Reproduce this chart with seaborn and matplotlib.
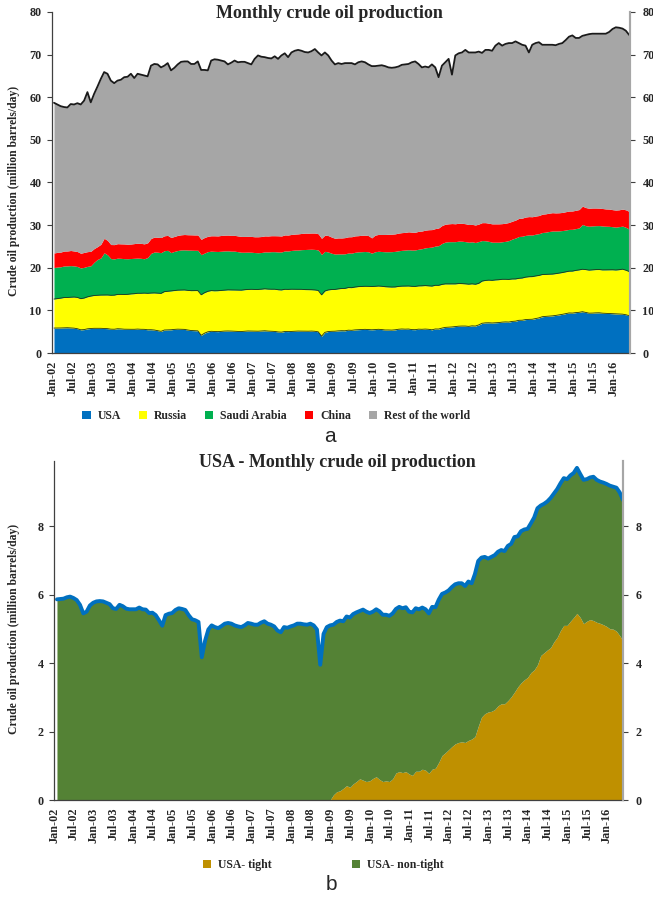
import numpy as np
import pandas as pd
import matplotlib
matplotlib.use("Agg")
import matplotlib.pyplot as plt
import seaborn as sns
from matplotlib.patches import Patch

# monthly data Jan-02 .. May-16 (million barrels/day)
world_total = [
    58.7, 58.3, 57.9, 57.7, 57.6, 58.4, 58.3, 58.6, 58.3, 59.2, 61.2, 58.8,
    60.8, 62.5, 64.3, 65.9, 65.5, 63.9, 63.3, 63.9, 64.1, 64.7, 64.8, 65.5,
    64.5, 65.5, 65.3, 65.1, 64.9, 67.4, 67.8, 67.7, 67.0, 67.4, 68.0, 66.3,
    66.9, 67.7, 68.3, 68.4, 68.4, 67.8, 67.8, 68.4, 66.4, 66.4, 66.3, 68.6,
    68.9, 68.8, 68.6, 68.4, 67.7, 68.1, 68.6, 68.2, 68.3, 68.3, 68.0, 67.7,
    69.0, 69.8, 69.5, 69.4, 69.2, 69.1, 69.6, 69.0, 69.8, 70.3, 69.4, 70.5,
    70.9, 71.1, 70.9, 70.6, 70.5, 70.8, 71.3, 70.5, 69.8, 70.5, 69.8, 68.6,
    67.7, 68.0, 67.8, 68.0, 68.0, 68.0, 67.7, 68.2, 68.4, 68.2, 67.7, 67.3,
    67.3, 67.4, 67.5, 67.3, 67.0, 66.9, 67.0, 67.2, 67.6, 67.7, 67.8, 68.2,
    68.4, 67.8, 67.0, 67.2, 67.0, 67.7, 67.0, 64.7, 67.4, 68.2, 69.0, 65.3,
    69.8, 70.3, 70.5, 71.1, 70.5, 70.5, 70.5, 70.7, 70.4, 71.1, 71.1, 70.9,
    72.1, 72.7, 72.1, 72.5, 72.7, 72.7, 73.1, 72.7, 72.3, 72.1, 70.5, 72.3,
    72.7, 72.9, 72.3, 72.3, 72.3, 72.3, 72.2, 72.5, 72.7, 73.4, 74.2, 74.5,
    73.9, 73.9, 74.4, 74.6, 74.8, 74.9, 74.9, 74.9, 74.9, 74.9, 75.3, 76.0,
    76.4, 76.3, 76.1, 75.6, 74.6,
]
usa = [
    5.86, 5.87, 5.88, 5.92, 5.94, 5.90, 5.84, 5.70, 5.45, 5.50, 5.68, 5.76,
    5.80, 5.81, 5.80, 5.76, 5.72, 5.60, 5.58, 5.70, 5.66, 5.59, 5.57, 5.57,
    5.57, 5.62, 5.57, 5.56, 5.46, 5.47, 5.40, 5.25, 5.09, 5.40, 5.44, 5.46,
    5.55, 5.60, 5.58, 5.55, 5.40, 5.28, 5.25, 5.20, 4.17, 4.65, 4.98, 5.10,
    5.05, 5.02, 5.08, 5.15, 5.17, 5.15, 5.10, 5.07, 5.05, 5.10, 5.17, 5.15,
    5.12, 5.12, 5.18, 5.22, 5.15, 5.12, 5.07, 4.95, 4.90, 5.05, 5.03, 5.07,
    5.10, 5.15, 5.15, 5.13, 5.12, 5.15, 5.10, 4.98, 3.95, 4.85, 5.05, 5.10,
    5.12, 5.20, 5.24, 5.22, 5.36, 5.33, 5.43, 5.48, 5.52, 5.56, 5.50, 5.46,
    5.50, 5.57, 5.51, 5.41, 5.41, 5.38, 5.45, 5.58, 5.64, 5.60, 5.63, 5.50,
    5.48, 5.60, 5.57, 5.62, 5.57, 5.45, 5.64, 5.63, 5.85, 6.02, 6.06, 6.12,
    6.22, 6.30, 6.33, 6.33, 6.25, 6.38, 6.33, 6.60, 6.98, 7.08, 7.10, 7.05,
    7.10, 7.15, 7.25, 7.30, 7.27, 7.42, 7.48, 7.68, 7.70, 7.85, 7.90, 7.92,
    8.08, 8.25, 8.52, 8.60, 8.65, 8.72, 8.82, 8.95, 9.08, 9.25, 9.40, 9.37,
    9.48, 9.55, 9.70, 9.52, 9.35, 9.37, 9.42, 9.44, 9.35, 9.30, 9.27, 9.23,
    9.18, 9.15, 9.12, 8.98, 8.76,
]
russia = [
    6.8, 6.9, 7.0, 7.1, 7.1, 7.2, 7.3, 7.35, 7.3, 7.4, 7.5, 7.6,
    7.7, 7.75, 7.8, 7.85, 7.9, 7.95, 8.0, 8.05, 8.1, 8.15, 8.2, 8.3,
    8.35, 8.4, 8.45, 8.5, 8.55, 8.6, 8.7, 8.8, 8.9, 9.0, 9.05, 9.1,
    9.1, 9.15, 9.2, 9.25, 9.3, 9.35, 9.4, 9.45, 9.5, 9.5, 9.5, 9.55,
    9.55, 9.6, 9.6, 9.6, 9.65, 9.65, 9.7, 9.7, 9.7, 9.75, 9.75, 9.8,
    9.8, 9.8, 9.8, 9.85, 9.85, 9.85, 9.9, 9.9, 9.9, 9.9, 9.9, 9.9,
    9.85, 9.8, 9.8, 9.75, 9.75, 9.7, 9.7, 9.7, 9.7, 9.7, 9.75, 9.8,
    9.8, 9.85, 9.9, 9.95, 10.0, 10.0, 10.05, 10.1, 10.1, 10.1, 10.15, 10.15,
    10.15, 10.15, 10.15, 10.15, 10.1, 10.1, 10.05, 10.05, 10.05, 10.1, 10.1, 10.15,
    10.15, 10.15, 10.2, 10.2, 10.2, 10.25, 10.25, 10.25, 10.25, 10.2, 10.15, 10.1,
    10.0, 10.0, 9.95, 9.9, 9.9, 9.85, 9.8, 9.75, 9.9, 9.95, 10.0, 10.0,
    10.05, 10.05, 10.05, 10.0, 10.0, 9.95, 9.9, 9.85, 9.9, 9.95, 10.0, 10.0,
    10.0, 9.95, 9.9, 9.85, 9.85, 9.8, 9.8, 9.8, 9.8, 9.8, 9.8, 9.85,
    9.9, 9.95, 9.95, 10.05, 10.1, 10.15, 10.15, 10.15, 10.15, 10.2, 10.25, 10.3,
    10.3, 10.4, 10.55, 10.45, 10.35,
]
saudi = [
    7.4, 7.4, 7.35, 7.4, 7.4, 7.4, 7.3, 7.25, 7.2, 7.2, 7.15, 7.1,
    7.8, 8.4, 8.7, 9.9, 9.4, 8.6, 8.5, 8.5, 8.45, 8.4, 8.35, 8.3,
    8.3, 8.25, 8.2, 8.05, 8.4, 9.3, 9.6, 9.6, 9.55, 9.6, 9.6, 9.0,
    9.2, 9.3, 9.4, 9.4, 9.45, 9.5, 9.45, 9.45, 9.4, 9.3, 9.3, 9.25,
    9.25, 9.2, 9.2, 9.2, 9.15, 9.1, 9.1, 9.0, 8.9, 8.8, 8.75, 8.7,
    8.65, 8.6, 8.6, 8.65, 8.7, 8.8, 8.8, 8.85, 8.9, 9.0, 9.0, 9.1,
    9.2, 9.2, 9.3, 9.4, 9.45, 9.5, 9.5, 9.5, 9.45, 9.3, 8.9, 8.5,
    8.3, 8.2, 8.1, 8.1, 8.1, 8.1, 8.15, 8.15, 8.15, 8.15, 8.1, 7.8,
    8.1, 8.15, 8.15, 8.2, 8.25, 8.3, 8.35, 8.35, 8.4, 8.45, 8.5, 8.5,
    8.55, 8.6, 8.7, 8.85, 9.0, 9.15, 9.2, 9.3, 9.6, 9.8, 9.9, 9.9,
    9.9, 9.95, 9.95, 9.9, 9.85, 9.85, 9.8, 9.8, 9.5, 9.3, 9.1, 8.95,
    8.85, 8.8, 8.8, 8.9, 9.1, 9.35, 9.6, 9.8, 9.8, 9.8, 9.8, 9.75,
    9.8, 9.8, 9.85, 9.9, 10.0, 10.1, 10.0, 9.9, 9.85, 9.8, 9.8, 9.8,
    9.8, 9.85, 10.5, 10.3, 10.3, 10.3, 10.3, 10.3, 10.3, 10.25, 10.2, 10.1,
    10.05, 10.1, 10.1, 10.05, 9.95,
]
china = [
    3.4, 3.45, 3.45, 3.5, 3.5, 3.55, 3.5, 3.5, 3.45, 3.5, 3.45, 3.4,
    3.2, 3.0, 3.2, 3.4, 3.4, 3.3, 3.35, 3.4, 3.4, 3.45, 3.4, 3.4,
    3.45, 3.5, 3.5, 3.5, 3.45, 3.5, 3.5, 3.5, 3.55, 3.5, 3.5, 3.55,
    3.5, 3.55, 3.55, 3.6, 3.6, 3.6, 3.6, 3.6, 3.6, 3.65, 3.6, 3.6,
    3.65, 3.65, 3.7, 3.7, 3.7, 3.7, 3.7, 3.7, 3.7, 3.7, 3.7, 3.7,
    3.7, 3.75, 3.75, 3.75, 3.75, 3.75, 3.75, 3.8, 3.75, 3.75, 3.75, 3.75,
    3.75, 3.8, 3.8, 3.85, 3.8, 3.8, 3.85, 3.8, 3.8, 3.8, 3.85, 3.8,
    3.7, 3.75, 3.75, 3.8, 3.8, 3.85, 3.85, 3.8, 3.85, 3.85, 3.8, 3.6,
    3.9, 3.95, 4.0, 4.05, 4.1, 4.1, 4.1, 4.15, 4.15, 4.15, 4.2, 4.2,
    4.15, 4.2, 4.15, 4.15, 4.15, 4.1, 4.1, 4.15, 4.2, 4.2, 4.2, 4.25,
    4.2, 4.2, 4.2, 4.2, 4.15, 4.1, 4.1, 4.1, 4.2, 4.25, 4.25, 4.3,
    4.3, 4.3, 4.25, 4.25, 4.25, 4.2, 4.2, 4.25, 4.25, 4.3, 4.3, 4.3,
    4.25, 4.25, 4.3, 4.3, 4.3, 4.3, 4.25, 4.25, 4.25, 4.3, 4.3, 4.3,
    4.3, 4.3, 4.3, 4.25, 4.2, 4.2, 4.15, 4.1, 4.1, 4.05, 4.05, 4.0,
    4.0, 3.95, 4.0, 4.1, 4.15,
]
usa_tight = [
    0, 0, 0, 0, 0, 0, 0, 0, 0, 0, 0, 0,
    0, 0, 0, 0, 0, 0, 0, 0, 0, 0, 0, 0,
    0, 0, 0, 0, 0, 0, 0, 0, 0, 0, 0, 0,
    0, 0, 0, 0, 0, 0, 0, 0, 0, 0, 0, 0,
    0, 0, 0, 0, 0, 0, 0, 0, 0, 0, 0, 0,
    0, 0, 0, 0, 0, 0, 0, 0, 0, 0, 0, 0,
    0, 0, 0, 0, 0, 0, 0, 0, 0, 0, 0, 0,
    0.15, 0.24, 0.27, 0.34, 0.42, 0.37, 0.47, 0.54, 0.62, 0.58, 0.54, 0.56,
    0.63, 0.68, 0.60, 0.54, 0.56, 0.54, 0.62, 0.79, 0.83, 0.80, 0.83, 0.76,
    0.72, 0.84, 0.84, 0.90, 0.87, 0.78, 0.90, 0.93, 1.10, 1.30, 1.38, 1.47,
    1.56, 1.64, 1.68, 1.70, 1.68, 1.74, 1.78, 1.85, 2.15, 2.42, 2.52, 2.57,
    2.59, 2.64, 2.75, 2.81, 2.81, 2.90, 3.01, 3.15, 3.30, 3.42, 3.51, 3.58,
    3.72, 3.80, 3.95, 4.22, 4.30, 4.38, 4.45, 4.62, 4.75, 4.95, 5.10, 5.10,
    5.22, 5.33, 5.45, 5.33, 5.15, 5.22, 5.27, 5.24, 5.19, 5.16, 5.12, 5.07,
    5.00, 4.99, 4.93, 4.80, 4.65,
]

months = pd.date_range("2002-01-01", periods=len(usa), freq="MS")
tick_labels = [d.strftime("%b-%y") for d in months[::6]]

top_names = ["USA", "Russia", "Saudi Arabia", "China", "Rest of the world"]
top_colors = ["#0070C0", "#FFFF00", "#00B050", "#FF0000", "#A6A6A6"]
usa_names = ["USA- tight", "USA- non-tight"]
usa_colors = ["#BF9000", "#548235"]

sns.set_style("white")
plt.rcParams["font.family"] = ["Liberation Serif", "DejaVu Serif"]
plt.rcParams["font.weight"] = "bold"
plt.rcParams["axes.labelweight"] = "bold"

x = np.arange(len(usa))
usa_a = np.array(usa)
world = np.array(world_total)
rest = world - (usa_a + np.array(russia) + np.array(saudi) + np.array(china))
non_tight = usa_a - np.array(usa_tight)

fig = plt.figure(figsize=(6.53, 8.99), dpi=100)


def style_axes(ax, ylim, yticks, x0, x1, shift):
    ax.set_xlim(x0, x1)
    ax.set_ylim(*ylim)
    ax.set_yticks(yticks)
    ax.set_xticks(np.arange(0, len(usa), 6)[:len(tick_labels)] - shift)
    ax.set_xticklabels(tick_labels, rotation=90)
    ax.tick_params(axis="both", labelsize=8.7, length=3.5, width=0.8,
                   direction="out", color="#404040")
    ax.tick_params(axis="x", pad=2)
    ax.tick_params(axis="y", pad=4, left=True)
    for s in ["left", "bottom"]:
        ax.spines[s].set_color("#404040")
        ax.spines[s].set_linewidth(0.9)
    ax.spines["top"].set_visible(False)
    ax.spines["right"].set_color("#A6A6A6")
    ax.spines["right"].set_linewidth(1.5)
    axr = ax.twinx()
    axr.set_ylim(*ylim)
    axr.set_yticks(yticks)
    axr.tick_params(axis="y", labelsize=8.7, length=3.5, width=0.8, pad=5.5,
                    direction="out", color="#404040")
    for s in ["left", "top", "bottom"]:
        axr.spines[s].set_visible(False)
    axr.spines["right"].set_color("#A6A6A6")
    axr.spines["right"].set_linewidth(1.5)
    return axr


# ---- panel a ----
ax1 = fig.add_axes([0.0796, 0.6073, 0.885, 0.3794])
ax1.stackplot(x, usa, russia, saudi, china, rest, colors=top_colors, linewidth=0)
sns.lineplot(x=x, y=usa_a, ax=ax1, color="#22331a", linewidth=0.6)
sns.lineplot(x=x, y=usa_a + np.array(russia), ax=ax1, color="#22331a", linewidth=0.6)
sns.lineplot(x=x, y=world, ax=ax1, color="#1a1a1a", linewidth=1.3)
style_axes(ax1, (0, 80), np.arange(0, 81, 10), -0.6, len(usa) - 0.8, 0.6)
ax1.set_ylabel("Crude oil production (million barrels/day)", fontsize=8.4)
ax1.yaxis.set_label_coords(-0.055, 0.474)
fig.text(0.504, 0.9855, "Monthly crude oil production", ha="center", va="center",
         fontsize=13, fontweight="bold")
fig.legend([Patch(facecolor=c, edgecolor="none") for c in top_colors], top_names,
           loc="center", bbox_to_anchor=(0.423, 0.537), ncol=5, frameon=False,
           fontsize=8.5, handlelength=0.7, handleheight=0.7, handletextpad=0.6,
           columnspacing=1.5)
fig.text(0.505, 1 - 437 / 899, "a", ha="center", va="center", fontsize=15,
         fontweight="normal", family="Liberation Sans")

# ---- panel b ----
ax2 = fig.add_axes([0.0827, 0.1101, 0.8714, 0.3771])
ax2.stackplot(x, usa_tight, non_tight, colors=usa_colors, linewidth=0)
sns.lineplot(x=x, y=usa_a, ax=ax2, color="#0070C0", linewidth=2.8)
style_axes(ax2, (0, 9.9), np.arange(0, 9, 2), -0.9, len(usa) - 1.0, 0.9)
ax2.set_ylabel("Crude oil production (million barrels/day)", fontsize=8.4)
ax2.yaxis.set_label_coords(-0.059, 0.504)
fig.text(0.517, 0.486, "USA - Monthly crude oil production", ha="center",
         va="center", fontsize=13, fontweight="bold")
fig.legend([Patch(facecolor=c, edgecolor="none") for c in usa_colors], usa_names,
           loc="center", bbox_to_anchor=(0.495, 0.038), ncol=2, frameon=False,
           fontsize=8.5, handlelength=0.7, handleheight=0.7, handletextpad=0.6,
           columnspacing=6.8)
fig.text(0.507, 1 - 885 / 899, "b", ha="center", va="center", fontsize=15,
         fontweight="normal", family="Liberation Sans")

fig.savefig("out.png", dpi=100)
